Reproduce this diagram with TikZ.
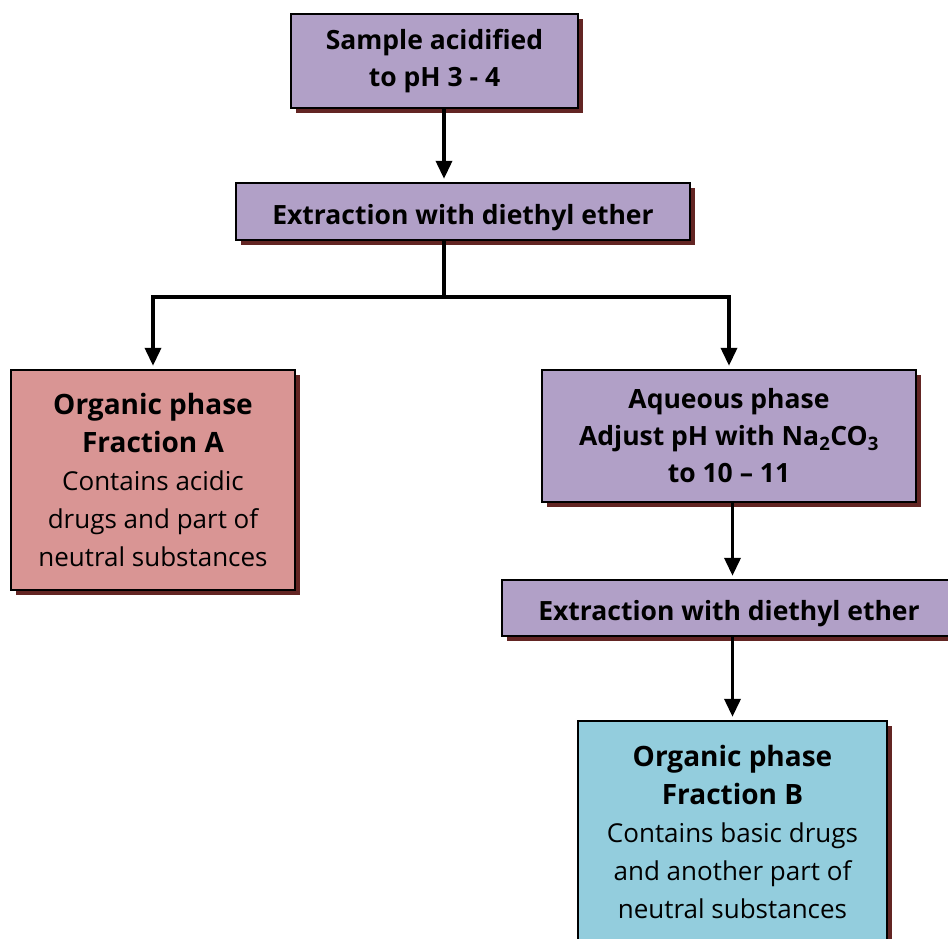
\documentclass[tikz,border=0pt]{standalone}
\usepackage{fontspec}
\setmainfont{Open Sans}
\usetikzlibrary{arrows.meta,shadows}
\definecolor{lavender}{HTML}{B1A0C7}
\definecolor{rose}{HTML}{D99594}
\definecolor{paleblue}{HTML}{93CDDD}
\definecolor{shade}{HTML}{632523}

\tikzset{
  stepbox/.style={draw=black,line width=2.4pt,fill=lavender,align=center,
    inner sep=0pt,font=\bfseries\fontsize{26.5}{37}\selectfont,
    execute at begin node={\rule{0pt}{32pt}},
    drop shadow={shadow xshift=5pt,shadow yshift=-5pt,fill=shade,opacity=1}},
  fraction/.style={stepbox,font=\bfseries\fontsize{28}{38}\selectfont,
    execute at begin node={}},
  arrow/.style={line width=3.6pt,-{Triangle[width=16pt,length=18pt]},shorten >=3pt}
}
\newcommand{\plaintext}{\mdseries\fontsize{26}{37}\selectfont}

\begin{document}
\begin{tikzpicture}[x=1pt,y=-1pt]
\useasboundingbox (0,0) rectangle (948,938);
% boxes
\node[stepbox,minimum width=287pt,minimum height=94pt] (sample) at (434.5,61) {Sample acidified\\to pH 3 - 4};
\node[stepbox,minimum width=454pt,minimum height=57pt] (ext1) at (463,211.5) {Extraction with diethyl ether};
\node[fraction,fill=rose,minimum width=284pt,minimum height=220pt] (fracA) at (153,480)
  {Organic phase\\Fraction A\\\plaintext Contains acidic\\\plaintext drugs and part of\\\plaintext neutral substances};
\node[stepbox,minimum width=374pt,minimum height=132pt] (aq) at (729,436)
  {Aqueous phase\\Adjust pH with Na\textsubscript{2}CO\textsubscript{3}\\to 10 -- 11};
\node[stepbox,minimum width=454pt,minimum height=56pt] (ext2) at (729,608) {Extraction with diethyl ether};
\node[fraction,fill=paleblue,minimum width=309pt,minimum height=222pt] (fracB) at (732.5,832)
  {Organic phase\\Fraction B\\\plaintext Contains basic drugs\\\plaintext and another part of\\\plaintext neutral substances};
% connectors
\coordinate (fork) at (444,297);
\draw[arrow] (sample.south -| fork) -- (ext1.north -| fork);
\draw[arrow] (ext1.south -| fork) -- (fork) -| (fracA.north);
\draw[arrow] (fork) -| (aq.north);
\draw[arrow] (aq.south -| fracB.north) -- (ext2.north -| fracB.north);
\draw[arrow] (ext2.south -| fracB.north) -- (fracB.north);
\end{tikzpicture}
\end{document}
